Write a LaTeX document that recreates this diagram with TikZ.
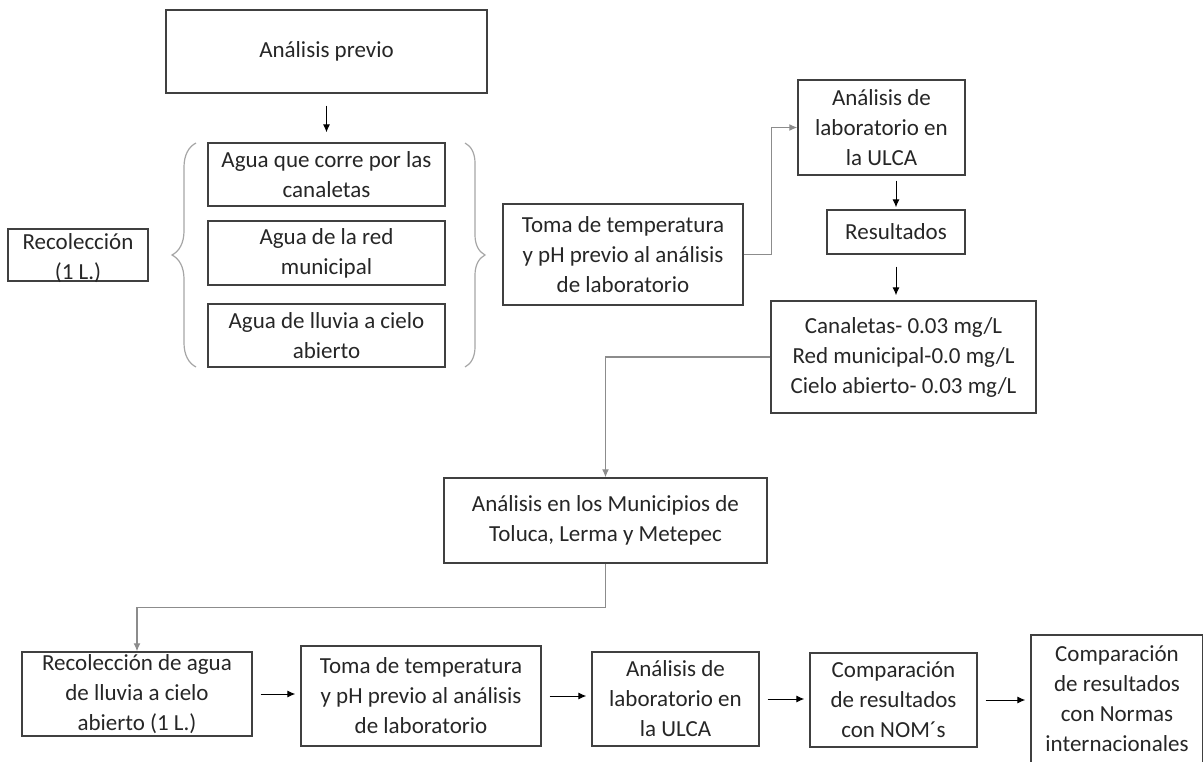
\documentclass[tikz,border=0pt]{standalone}
\usepackage{fontspec}
\setmainfont{Carlito}
\usetikzlibrary{arrows.meta}
\usetikzlibrary{decorations.pathreplacing}
\definecolor{boxline}{HTML}{404040}
\definecolor{linkgray}{HTML}{8C8C8C}
\definecolor{bracegray}{HTML}{A6A6A6}
\definecolor{ink}{HTML}{262626}

\begin{document}
\begin{tikzpicture}[x=1pt, y=-1pt, >={Latex[length=8pt,width=7pt]},
  box/.style={draw=boxline, line width=1.4pt, align=center, text=ink, inner sep=0pt, font=\fontsize{23}{30}\selectfont},
  link/.style={->, draw=linkgray, line width=1.2pt},
  flow/.style={->, draw=black, line width=1pt, shorten <=8pt, shorten >=5pt},
  curly/.style={decorate, draw=bracegray, line width=1.2pt}]
\useasboundingbox (0,0) rectangle (1203,762);

\node[box, minimum width=321, minimum height=83] (previo) at (326.5,51.5) {Análisis previo};
\node[box, minimum width=237, minimum height=63] (canal) at (326.5,174.5) {Agua que corre por las\\canaletas};
\node[box, minimum width=237, minimum height=64] (red) at (326.5,253) {Agua de la red\\municipal};
\node[box, minimum width=237, minimum height=63] (lluvia) at (326.5,335.5) {Agua de lluvia a cielo\\abierto};
\node[box, minimum width=140, minimum height=52] (recol) at (78,255) {};
\node[box, draw=none] (recoltxt) at (78,258) {Recolección\\(1 L.)};

\node[box, minimum width=240, minimum height=101] (toma) at (623,254.5) {Toma de temperatura\\y pH previo al análisis\\de laboratorio};
\node[box, minimum width=167, minimum height=95] (lab) at (881.5,127.5) {Análisis de\\laboratorio en\\la ULCA};
\node[box, minimum width=138, minimum height=44] (res) at (896,232) {Resultados};
\node[box, minimum width=265, minimum height=112] (datos) at (903.5,357) {Canaletas- 0.03 mg/L\\Red municipal-0.0 mg/L\\Cielo abierto- 0.03 mg/L};
\node[box, minimum width=323, minimum height=85] (muni) at (605.5,520.5) {Análisis en los Municipios de\\Toluca, Lerma y Metepec};

\node[box, minimum width=230, minimum height=84] (recoldos) at (137,694) {Recolección de agua\\de lluvia a cielo\\abierto (1 L.)};
\node[box, minimum width=240, minimum height=100] (tomados) at (421,696) {Toma de temperatura\\y pH previo al análisis\\de laboratorio};
\node[box, minimum width=167, minimum height=94] (labdos) at (675.5,699) {Análisis de\\laboratorio en\\la ULCA};
\node[box, minimum width=167, minimum height=94] (nom) at (893.5,700) {Comparación\\de resultados\\con NOM´s};
\node[box, minimum width=172, minimum height=128] (normas) at (1117,699) {Comparación\\de resultados\\con Normas\\internacionales};

\draw[curly, decoration={brace, amplitude=24pt}] (196,367) -- (196,143);
\draw[curly, decoration={brace, amplitude=20pt}] (465,143) -- (465,367);

\draw[flow, shorten <=12pt, shorten >=10pt] (previo.south) -- (previo.south |- canal.north);
\draw[link] (toma.east) -- ++(28,0) |- (lab.west);
\draw[flow, shorten <=5pt, shorten >=2pt] (res.north |- lab.south) -- (res.north);
\draw[flow, shorten <=12pt] (res.south) -- (res.south |- datos.north);
\draw[link] (datos.west) -| (muni.north);
\draw[link] (muni.south) -- ++(0,44) -| (recoldos.north);
\draw[flow] (recoldos.east) -- (recoldos.east -| tomados.west);
\draw[flow] (tomados.east) -- (tomados.east -| labdos.west);
\draw[flow] (labdos.east) -- (labdos.east -| nom.west);
\draw[flow] (nom.east) -- (nom.east -| normas.west);
\end{tikzpicture}
\end{document}
